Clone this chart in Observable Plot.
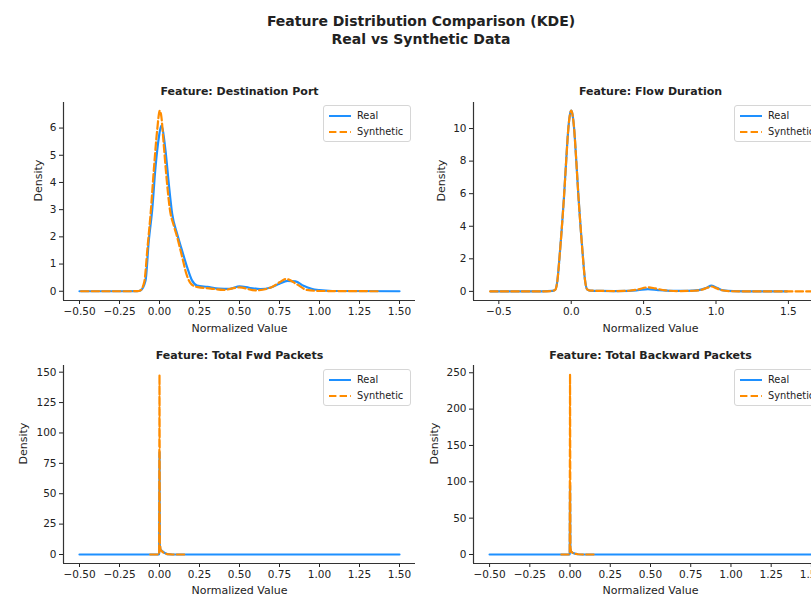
<!DOCTYPE html>
<html>
<head>
<meta charset="utf-8">
<script src="https://cdn.jsdelivr.net/npm/d3@7"></script>
<script src="https://cdn.jsdelivr.net/npm/@observablehq/plot@0.6"></script>
<style>
  html, body { margin: 0; padding: 0; background: #fff; }
  #fig { position: relative; width: 811px; height: 597px; overflow: hidden; background: #fff; font-family: "DejaVu Sans", sans-serif; color: #222; }
  .suptitle { position: absolute; left: 0; width: 842px; text-align: center; font-weight: bold; font-size: 14px; line-height: 18px; }
  .panel { position: absolute; }
  .panel svg { max-width: none !important; }
  .legend { position: absolute; width: 86px; height: 35px; border: 1px solid #d6d6d6; border-radius: 3px; background: rgba(255,255,255,0.85); font-size: 9.8px; }
  .legend .row { position: absolute; left: 0; height: 14px; width: 120px; }
  .legend svg { position: absolute; left: 3px; top: 0; }
  .legend span { position: absolute; left: 33px; top: 0; line-height: 14px; white-space: nowrap; }
</style>
</head>
<body>
<div id="fig">
  <div class="suptitle" style="top:12px">Feature Distribution Comparison (KDE)</div>
  <div class="suptitle" style="top:30px">Real vs Synthetic Data</div>
</div>
<script>
// ---------- data ----------
const panelTitles = ["Feature: Destination Port", "Feature: Flow Duration", "Feature: Total Fwd Packets", "Feature: Total Backward Packets"];
const seriesNames = ["Real", "Synthetic"];

// Destination Port
const portRealX  = [-0.5, -0.2, -0.14, -0.119, -0.0875, -0.067, -0.046, -0.025, -0.004, 0.011, 0.0375, 0.058, 0.079, 0.11, 0.141, 0.173, 0.204, 0.235, 0.3, 0.37, 0.44, 0.5, 0.56, 0.63, 0.7, 0.75, 0.8, 0.85, 0.9, 0.95, 1.0, 1.08, 1.5];
const portRealY  = [0, 0, 0.005, 0.03, 0.39, 1.86, 2.97, 4.56, 5.66, 6.09, 5.17, 3.95, 2.85, 2.11, 1.5, 0.88, 0.39, 0.21, 0.16, 0.1, 0.09, 0.18, 0.13, 0.08, 0.15, 0.28, 0.38, 0.36, 0.2, 0.09, 0.04, 0.01, 0];
const portSynthX = [-0.49, -0.2, -0.14, -0.12, -0.095, -0.075, -0.055, -0.035, -0.015, 0.002, 0.012, 0.025, 0.045, 0.065, 0.09, 0.11, 0.14, 0.17, 0.2, 0.24, 0.32, 0.4, 0.5, 0.6, 0.7, 0.75, 0.79, 0.86, 0.92, 1.0, 1.37];
const portSynthY = [0, 0, 0.005, 0.03, 0.35, 1.6, 2.9, 4.5, 5.9, 6.64, 6.4, 5.5, 4.1, 3.0, 2.4, 2.0, 1.3, 0.6, 0.25, 0.15, 0.1, 0.05, 0.14, 0.03, 0.15, 0.33, 0.45, 0.25, 0.05, 0.01, 0];

// Flow Duration
const flowRealX  = [-0.557, -0.2, -0.13, -0.11, -0.095, -0.08, -0.065, -0.05, -0.035, -0.02, -0.008, 0, 0.008, 0.02, 0.035, 0.05, 0.065, 0.08, 0.095, 0.11, 0.13, 0.2, 0.3, 0.4, 0.46, 0.53, 0.6, 0.7, 0.8, 0.88, 0.93, 0.97, 1.01, 1.05, 1.12, 1.2, 1.49];
const flowRealY  = [0, 0, 0.03, 0.1, 0.7, 2.2, 3.9, 5.8, 8.0, 10.0, 10.9, 11.1, 10.9, 10.0, 8.0, 5.8, 3.9, 2.2, 0.7, 0.12, 0.05, 0.03, 0.02, 0.03, 0.07, 0.14, 0.08, 0.03, 0.03, 0.08, 0.2, 0.35, 0.2, 0.06, 0.01, 0, 0];
const flowSynthX = [-0.56, -0.2, -0.13, -0.11, -0.095, -0.08, -0.065, -0.05, -0.035, -0.02, -0.008, 0, 0.008, 0.02, 0.035, 0.05, 0.065, 0.08, 0.095, 0.11, 0.13, 0.2, 0.3, 0.4, 0.46, 0.53, 0.58, 0.65, 0.75, 0.85, 0.9, 0.94, 0.97, 1.0, 1.04, 1.1, 1.2, 1.66];
const flowSynthY = [0, 0, 0.03, 0.1, 0.7, 2.2, 3.9, 5.8, 8.0, 10.0, 10.9, 11.1, 10.9, 10.0, 8.0, 5.8, 3.9, 2.2, 0.7, 0.12, 0.05, 0.03, 0.02, 0.04, 0.12, 0.25, 0.18, 0.06, 0.02, 0.04, 0.1, 0.22, 0.3, 0.2, 0.07, 0.01, 0, 0];

// Total Fwd Packets
const fwdRealX  = [-0.5, -0.004, -0.002, 0, 0.002, 0.006, 0.015, 0.03, 0.05, 0.08, 1.5];
const fwdRealY  = [0, 0, 1, 84, 8, 4, 3, 1.5, 0.3, 0, 0];
const fwdSynthX = [-0.058, -0.004, -0.002, 0, 0.002, 0.006, 0.015, 0.03, 0.05, 0.08, 0.17];
const fwdSynthY = [0, 0, 2, 148, 10, 4, 2.5, 1, 0.3, 0, 0];

// Total Backward Packets
const bwdRealX  = [-0.5, -0.004, -0.002, 0, 0.002, 0.006, 0.015, 0.03, 0.05, 0.08, 1.5];
const bwdRealY  = [0, 0, 1, 95, 8, 4, 2.5, 1.2, 0.3, 0, 0];
const bwdSynthX = [-0.054, -0.004, -0.002, 0, 0.002, 0.006, 0.015, 0.03, 0.05, 0.08, 0.154];
const bwdSynthY = [0, 0, 2, 248, 10, 4, 2.5, 1, 0.3, 0, 0];

// tick labels
const xTicksQuarter = [-0.5, -0.25, 0, 0.25, 0.5, 0.75, 1.0, 1.25, 1.5];
const xTicksHalf = [-0.5, 0, 0.5, 1.0, 1.5];
const yTicksPort = [0, 1, 2, 3, 4, 5, 6];
const yTicksFlow = [0, 2, 4, 6, 8, 10];
const yTicksFwd = [0, 25, 50, 75, 100, 125, 150];
const yTicksBwd = [0, 50, 100, 150, 200, 250];

// ---------- drawing ----------
const zip = (xs, ys) => xs.map((x, i) => ({x, y: ys[i]}));
const BLUE = "#1e90ff", ORANGE = "#ff8c00";

function panel(o) {
  const svg = Plot.plot({
    width: o.width, height: o.height,
    marginLeft: o.ml, marginRight: o.mr, marginTop: o.mt, marginBottom: o.mb,
    style: {fontFamily: "DejaVu Sans", fontSize: "10.5px", color: "#222", background: "transparent", overflow: "visible"},
    x: {domain: o.xDomain},
    y: {domain: o.yDomain},
    marks: [
      Plot.axisX({ticks: o.xTicks, tickFormat: d3.format(o.xFmt), tickSize: 4, tickPadding: 3, label: null}),
      Plot.axisY({ticks: o.yTicks, tickFormat: d3.format("d"), tickSize: 4, tickPadding: 3, label: null}),
      Plot.ruleX([o.xDomain[0]], {stroke: "#333", strokeWidth: 1.2}),
      Plot.ruleY([o.yDomain[0]], {stroke: "#333", strokeWidth: 1.2}),
      Plot.line(o.real, {x: "x", y: "y", stroke: BLUE, strokeWidth: 2.2, curve: o.curve}),
      Plot.line(o.synth, {x: "x", y: "y", stroke: ORANGE, strokeWidth: 2.2, strokeDasharray: "7.4,3.2", curve: o.curve}),
      Plot.text([o.title], {frameAnchor: "top", lineAnchor: "middle", dy: o.titleDy, fontWeight: "bold", fontSize: 11}),
      Plot.text(["Normalized Value"], {frameAnchor: "bottom", lineAnchor: "middle", dy: o.xlabDy, fontSize: 11}),
      Plot.text(["Density"], {frameAnchor: "left", dx: o.ylabDx, rotate: -90, fontSize: 11})
    ]
  });
  svg.style.maxWidth = "none";
  svg.style.width = o.width + "px";
  svg.style.height = o.height + "px";
  return svg;
}

const fig = document.getElementById("fig");
function place(node, left, top, w, h) {
  const d = document.createElement("div");
  d.className = "panel";
  d.style.left = left + "px";
  d.style.top = top + "px";
  d.style.width = w + "px";
  d.style.height = h + "px";
  d.appendChild(node);
  fig.appendChild(d);
}
function legend(left, top) {
  const d = document.createElement("div");
  d.className = "legend";
  d.style.left = left + "px";
  d.style.top = top + "px";
  d.innerHTML = `
    <div class="row" style="top:3px"><svg width="26" height="14"><line x1="2" x2="24" y1="7" y2="7" stroke="${BLUE}" stroke-width="2"/></svg><span>${seriesNames[0]}</span></div>
    <div class="row" style="top:19px"><svg width="26" height="14"><line x1="2" x2="24" y1="7" y2="7" stroke="${ORANGE}" stroke-width="2" stroke-dasharray="7.4,3.2"/></svg><span>${seriesNames[1]}</span></div>`;
  fig.appendChild(d);
}

place(panel({
  width: 420, height: 270, ml: 63, mr: 5, mt: 32, mb: 40,
  xDomain: [-0.6, 1.6], yDomain: [-0.34, 6.94], xTicks: xTicksQuarter, yTicks: yTicksPort, xFmt: ".2f",
  real: zip(portRealX, portRealY), synth: zip(portSynthX, portSynthY), curve: "monotone-x",
  title: panelTitles[0], titleDy: -11, xlabDy: 28, ylabDx: -25
}), 0, 70, 420, 270);

place(panel({
  width: 422, height: 270, ml: 53, mr: 15, mt: 32, mb: 40,
  xDomain: [-0.675, 1.77], yDomain: [-0.56, 11.6], xTicks: xTicksHalf, yTicks: yTicksFlow, xFmt: ".1f",
  real: zip(flowRealX, flowRealY), synth: zip(flowSynthX, flowSynthY), curve: "monotone-x",
  title: panelTitles[1], titleDy: -11, xlabDy: 28, ylabDx: -32
}), 420, 70, 422, 270);

place(panel({
  width: 420, height: 270, ml: 63, mr: 5, mt: 25, mb: 47,
  xDomain: [-0.6, 1.6], yDomain: [-7.4, 155.5], xTicks: xTicksQuarter, yTicks: yTicksFwd, xFmt: ".2f",
  real: zip(fwdRealX, fwdRealY), synth: zip(fwdSynthX, fwdSynthY), curve: "linear",
  title: panelTitles[2], titleDy: -10, xlabDy: 27, ylabDx: -40
}), 0, 340, 420, 270);

place(panel({
  width: 422, height: 270, ml: 53, mr: 15, mt: 25, mb: 47,
  xDomain: [-0.6, 1.6], yDomain: [-12.4, 260], xTicks: xTicksQuarter, yTicks: yTicksBwd, xFmt: ".2f",
  real: zip(bwdRealX, bwdRealY), synth: zip(bwdSynthX, bwdSynthY), curve: "linear",
  title: panelTitles[3], titleDy: -10, xlabDy: 27, ylabDx: -39
}), 420, 340, 422, 270);

legend(323, 105);
legend(734, 105);
legend(323, 369);
legend(734, 369);
</script>
</body>
</html>
